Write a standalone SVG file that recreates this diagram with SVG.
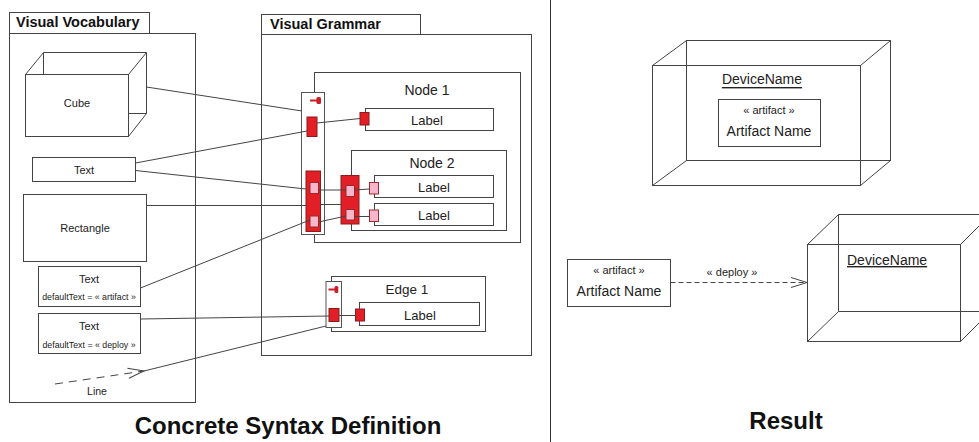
<svg xmlns="http://www.w3.org/2000/svg" width="979" height="442" viewBox="0 0 979 442">
<defs>
<style>
.box{fill:#fff;stroke:#444;stroke-width:1}
.nf{fill:none;stroke:#444;stroke-width:1}
.ln{fill:none;stroke:#444;stroke-width:1}
.red{fill:#e21f26;stroke:#8a1c1c;stroke-width:1}
.pink{fill:#f7b6cb;stroke:#9a2a2a;stroke-width:1}
.bar{fill:#fff;stroke:#555;stroke-width:1}
text{font-family:"Liberation Sans",Arial,sans-serif;fill:#222}
.t{text-anchor:middle;dominant-baseline:central}
.hd{font-weight:bold;font-size:14.5px;fill:#111}
.title{font-weight:bold;font-size:24px;fill:#111;text-anchor:middle}
.s11{font-size:11px}
.s9{font-size:8.8px}
.s13{font-size:13px}
.s14{font-size:14px}
</style>
<marker id="open" markerUnits="userSpaceOnUse" markerWidth="18" markerHeight="12" refX="16" refY="5" orient="auto" overflow="visible">
<path d="M0,0 L16,5 L0,10" fill="none" stroke="#444" stroke-width="1"/>
</marker>
</defs>
<rect width="979" height="442" fill="#fff"/>

<!-- Visual Vocabulary -->
<g id="visual-vocabulary">
<rect class="box" x="9.5" y="12.5" width="140" height="21"/>
<rect class="box" x="9.5" y="33.5" width="186" height="369"/>
<text class="hd" x="16" y="27">Visual Vocabulary</text>
</g>

<g id="voc-cube">
<rect class="box" x="25.5" y="74.5" width="103" height="62"/>
<path class="nf" d="M25.5,74.5 L43.5,52.5 L146.5,52.5 L128.5,74.5 M43.5,52.5 L43.5,74.5 M146.5,52.5 L146.5,113.5 L128.5,136.5 M128.5,113.5 L146.5,113.5"/>
<text class="t s11" x="77" y="103">Cube</text>
</g>

<g id="voc-text">
<rect class="box" x="32.5" y="157.5" width="103" height="24"/>
<text class="t s11" x="84" y="170">Text</text>
</g>

<g id="voc-rectangle">
<rect class="box" x="23.5" y="194.5" width="123" height="67"/>
<text class="t s11" x="85" y="228">Rectangle</text>
</g>

<g id="voc-text-artifact">
<rect class="box" x="38.5" y="266.5" width="102" height="40"/>
<text class="t s11" x="89" y="279">Text</text>
<text class="t s9" x="89" y="297">defaultText = « artifact »</text>
</g>

<g id="voc-text-deploy">
<rect class="box" x="38.5" y="313.5" width="102" height="40"/>
<text class="t s11" x="89" y="326">Text</text>
<text class="t s9" x="89" y="345">defaultText = « deploy »</text>
</g>

<g id="voc-line">
<line class="ln" x1="55" y1="384" x2="144" y2="371" stroke-dasharray="8,6" marker-end="url(#open)"/>
<text class="t s11" x="97" y="391" style="font-size:10.5px">Line</text>
</g>

<!-- Visual Grammar -->
<g id="visual-grammar">
<rect class="box" x="261.5" y="14.5" width="159" height="20"/>
<rect class="box" x="261.5" y="34.5" width="270" height="321"/>
<text class="hd" x="270" y="29">Visual Grammar</text>
</g>

<g id="node1">
<rect class="box" x="314.5" y="72.5" width="206" height="170"/>
<text class="t s14" x="427" y="90">Node 1</text>
<rect class="bar" x="301.5" y="92.5" width="23" height="142"/>
<line x1="310" y1="100.5" x2="317" y2="100.5" stroke="#c81e24" stroke-width="2"/>
<rect x="316.5" y="97" width="4.5" height="7" rx="1.5" fill="#c81e24"/>
<rect class="red" x="307" y="117" width="10" height="19.5"/>
<rect class="box" x="365.5" y="108.5" width="128" height="22"/>
<rect class="red" x="360" y="112.5" width="9" height="12.5"/>
<text class="t s13" x="427" y="120">Label</text>
<line class="ln" x1="317" y1="123" x2="360" y2="118.5"/>
<rect class="red" x="306" y="171" width="14.5" height="60.5"/>
<rect class="pink" x="310" y="182.5" width="8.5" height="11"/>
<rect class="pink" x="310" y="216" width="8.5" height="11"/>
</g>

<g id="node2">
<rect class="box" x="351.5" y="150.5" width="155" height="80"/>
<text class="t s14" x="432" y="163">Node 2</text>
<rect class="red" x="341" y="175.5" width="18" height="48.5"/>
<rect class="pink" x="346" y="185.5" width="8.5" height="11"/>
<rect class="pink" x="346" y="209.5" width="8.5" height="10.5"/>
<rect class="box" x="374.5" y="175.5" width="119" height="22"/>
<rect class="box" x="374.5" y="203.5" width="119" height="22"/>
<rect class="pink" x="369.5" y="182.5" width="9" height="11.5"/>
<rect class="pink" x="369.5" y="210" width="9" height="11.5"/>
<text class="t s13" x="434" y="187">Label</text>
<text class="t s13" x="434" y="215">Label</text>
<line class="ln" x1="354.5" y1="190" x2="369.5" y2="189"/>
<line class="ln" x1="354.5" y1="216.5" x2="369.5" y2="216.5"/>
</g>

<g id="edge1">
<rect class="box" x="331.5" y="276.5" width="154" height="55"/>
<text class="t s13" x="407" y="289" style="font-size:13.5px">Edge 1</text>
<rect class="bar" x="326" y="281.5" width="15.5" height="46"/>
<line x1="328.5" y1="289.5" x2="335" y2="289.5" stroke="#c81e24" stroke-width="2"/>
<rect x="334.5" y="286" width="3.8" height="7" rx="1.5" fill="#c81e24"/>
<rect class="red" x="329" y="308.5" width="10" height="13"/>
<rect class="box" x="359.5" y="302.5" width="120" height="23"/>
<rect class="red" x="355.5" y="309" width="9" height="12"/>
<text class="t s13" x="420" y="315">Label</text>
<line class="ln" x1="339" y1="315.5" x2="355.5" y2="315.5"/>
</g>

<!-- connectors -->
<g id="connectors">
<line class="ln" x1="146.5" y1="87" x2="302" y2="111"/>
<line class="ln" x1="135.5" y1="163" x2="307" y2="131"/>
<line class="ln" x1="135.5" y1="170.5" x2="306" y2="189"/>
<line class="ln" x1="146.5" y1="205.5" x2="306" y2="205.5"/>
<line class="ln" x1="140.5" y1="288" x2="310" y2="220"/>
<line class="ln" x1="140.5" y1="319" x2="329" y2="316"/>
<line class="ln" x1="144" y1="371" x2="326" y2="326"/>
<line class="ln" x1="318.5" y1="190" x2="346" y2="190"/>
<line class="ln" x1="320.5" y1="204.5" x2="341" y2="204.5"/>
<line class="ln" x1="318.5" y1="222" x2="346" y2="216"/>
<line class="ln" x1="670.5" y1="282.5" x2="807" y2="282.5" stroke-dasharray="5,3" marker-end="url(#open)"/>
</g>

<line x1="550.5" y1="0" x2="550.5" y2="442" stroke="#333" stroke-width="1"/>

<!-- Result -->
<g id="device-top">
<rect class="nf" x="652.5" y="65.5" width="208" height="120"/>
<rect class="nf" x="686.5" y="40.5" width="204" height="120"/>
<path class="nf" d="M652.5,65.5 L686.5,40.5 M860.5,65.5 L890.5,40.5 M652.5,185.5 L686.5,160.5 M860.5,185.5 L890.5,160.5"/>
<text class="t s14" x="762" y="79" text-decoration="underline">DeviceName</text>
</g>

<g id="artifact-inner">
<rect class="box" x="718.5" y="99.5" width="102" height="47"/>
<text class="t s11" x="769" y="110">« artifact »</text>
<text class="t s14" x="769" y="131">Artifact Name</text>
</g>

<g id="artifact-outer">
<rect class="box" x="567.5" y="259.5" width="103" height="47"/>
<text class="t s11" x="619" y="270">« artifact »</text>
<text class="t s14" x="619" y="291">Artifact Name</text>
</g>

<text class="t s11" x="732" y="272">« deploy »</text>

<g id="device-bottom">
<rect class="nf" x="807.5" y="244.5" width="153" height="97"/>
<path class="nf" d="M838.5,214.5 L991,214.5 M838.5,214.5 L838.5,311.5 L991,311.5 M807.5,244.5 L838.5,214.5 M807.5,341.5 L838.5,311.5 M960.5,244.5 L991,214 M960.5,341.5 L991,311"/>
<text class="s14" x="847" y="265" text-decoration="underline">DeviceName</text>
</g>

<text class="title" x="288" y="434">Concrete Syntax Definition</text>
<text class="title" x="786" y="429">Result</text>
</svg>
